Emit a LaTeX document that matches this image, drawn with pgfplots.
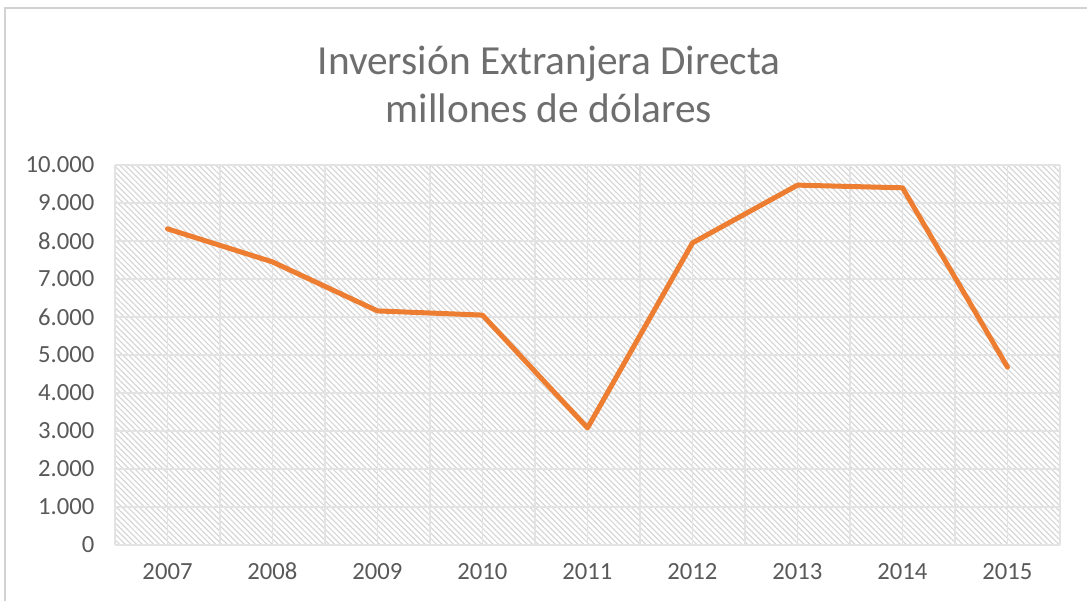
\documentclass[border=0pt]{standalone}
\usepackage{pgfplots}
\pgfplotsset{compat=1.18}
\usetikzlibrary{patterns.meta}
\usepackage{fontspec}
\setmainfont{Carlito}
\definecolor{txt}{HTML}{595959}
\definecolor{ttl}{HTML}{6E6E6E}
\definecolor{gridc}{HTML}{E3E3E3}
\definecolor{hatch}{HTML}{D6D6D6}
\definecolor{orangeline}{HTML}{ED7D31}
\begin{document}
\begin{tikzpicture}
\begin{scope}[x=0.75pt,y=0.75pt]
\useasboundingbox (0,0) rectangle (1087,600);
\draw[color=gray!35, line width=1.5] (5,-20) -- (5,592) -- (1110,592);
\node[font=\fontsize{31}{36}\selectfont, text=ttl, align=center] at (549,516) {Inversión Extranjera Directa\\millones de dólares};
\end{scope}
\begin{axis}[
  at={(86.25pt,41.25pt)}, anchor=south west,
  scale only axis, width=708.75pt, height=285pt,
  xmin=2006.5, xmax=2015.5, ymin=0, ymax=10000,
  xtick={2007,...,2015},
  minor xtick={2006.5,2007.5,...,2015.5},
  ytick={0,1000,...,10000},
  scaled y ticks=false,
  typeset ticklabels with strut,
  xmajorgrids, xminorgrids, ymajorgrids,
  grid style={color=gridc, line width=1.1pt},
  minor grid style={color=gridc, line width=1.1pt},
  axis line style={draw=none},
  major tick style={draw=none}, minor tick style={draw=none},
  axis background/.style={pattern={Lines[angle=-45,distance=3pt,line width=0.9pt]}, pattern color=hatch},
  tick label style={font=\fontsize{18.5}{22}\selectfont, text=txt},
  xticklabel={\pgfmathprintnumber[1000 sep={},assume math mode=true]{\tick}},
  yticklabel={\pgfmathprintnumber[1000 sep={.},assume math mode=true]{\tick}},
  yticklabel style={xshift=-12pt},
  xticklabel style={yshift=-10pt},
  clip=false,
]
\addplot[color=orangeline, line width=3.75pt, line join=round, line cap=round] coordinates {
  (2007,8320) (2008,7450) (2009,6160) (2010,6050) (2011,3080)
  (2012,7950) (2013,9470) (2014,9400) (2015,4680)
};
\end{axis}
\end{tikzpicture}
\end{document}
